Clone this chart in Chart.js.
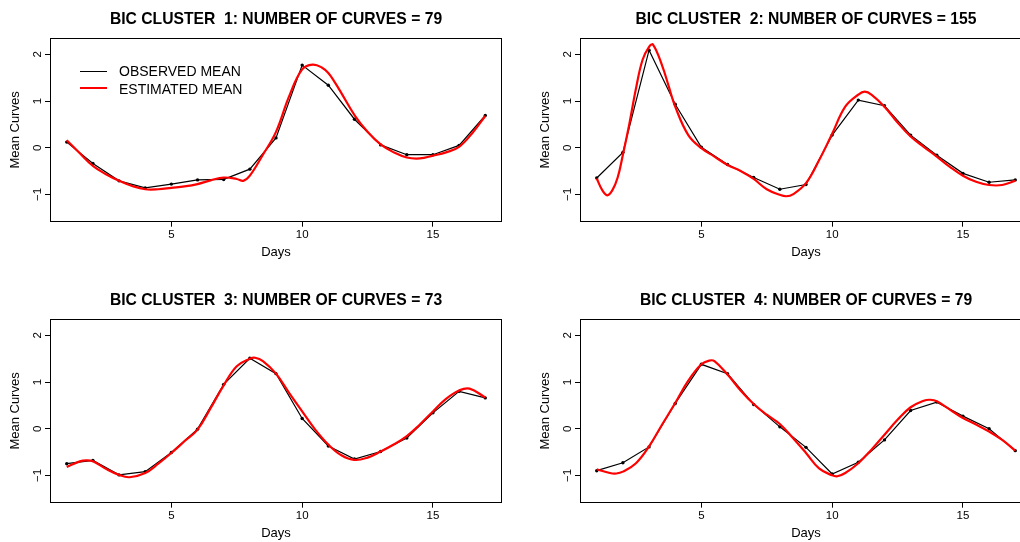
<!DOCTYPE html>
<html>
<head>
<meta charset="utf-8">
<script src="https://cdn.jsdelivr.net/npm/chart.js@4.4.1/dist/chart.umd.min.js"></script>
<style>
  html, body { margin: 0; padding: 0; background: #fff; }
  body { width: 1020px; height: 542px; overflow: hidden; position: relative;
         font-family: "Liberation Sans", Arial, Helvetica, sans-serif; }
  canvas { position: absolute; }
  #legend { position: absolute; left: 80px; top: 62.4px; font-size: 14px; color: #000; }
  #legend .row { display: flex; align-items: center; height: 17.3px; }
  #legend .line { display: inline-block; width: 27px; height: 0; }
  #legend .txt { margin-left: 12px; line-height: 17.3px; position: relative; top: 1px; white-space: pre; }
</style>
</head>
<body>
<canvas id="c1" width="552" height="270" style="left:0px;top:0px"></canvas>
<canvas id="c2" width="552" height="270" style="left:530px;top:0px"></canvas>
<canvas id="c3" width="552" height="270" style="left:0px;top:281px"></canvas>
<canvas id="c4" width="552" height="270" style="left:530px;top:281px"></canvas>
<div id="legend">
  <div class="row"><span class="line" style="border-top:1.3px solid #000"></span><span class="txt">OBSERVED MEAN</span></div>
  <div class="row"><span class="line" style="border-top:2.2px solid #ff0000"></span><span class="txt">ESTIMATED MEAN</span></div>
</div>
<script>
const FONT = '"Liberation Sans", Arial, Helvetica, sans-serif';

// sampling days of the observed means
const days = [1, 2, 3, 4, 5, 6, 7, 8, 9, 10, 11, 12, 13, 14, 15, 16, 17];
const xTicks = [5, 10, 15];
const yTicks = [-1, 0, 1, 2];

const titles = [
  "BIC CLUSTER  1: NUMBER OF CURVES = 79",
  "BIC CLUSTER  2: NUMBER OF CURVES = 155",
  "BIC CLUSTER  3: NUMBER OF CURVES = 73",
  "BIC CLUSTER  4: NUMBER OF CURVES = 79",
];

// observed cluster means
const obs1 = [0.12, -0.34, -0.71, -0.86, -0.78, -0.69, -0.68, -0.46, 0.21, 1.77, 1.34, 0.61, 0.06, -0.15, -0.15, 0.05, 0.69];
const obs2 = [-0.65, -0.10, 2.09, 0.93, 0.01, -0.36, -0.64, -0.89, -0.79, 0.27, 1.02, 0.90, 0.27, -0.16, -0.55, -0.74, -0.69];
const obs3 = [-0.75, -0.68, -0.99, -0.92, -0.51, -0.01, 0.95, 1.51, 1.18, 0.22, -0.37, -0.65, -0.49, -0.20, 0.34, 0.80, 0.66];
const obs4 = [-0.90, -0.73, -0.39, 0.54, 1.38, 1.18, 0.52, 0.04, -0.40, -0.97, -0.72, -0.24, 0.39, 0.57, 0.27, 0.00, -0.47];

// estimated (smoothed) mean curves
const estX1 = [1, 1.5, 2, 2.5, 3, 3.5, 4, 4.5, 5, 5.5, 6, 6.5, 7, 7.5, 7.75, 8, 8.5, 9, 9.5, 10, 10.4, 10.75, 11, 11.25, 11.5, 12, 12.5, 13, 13.5, 14, 14.5, 15, 15.5, 16, 16.5, 17];
const estY1 = [0.16, -0.12, -0.39, -0.57, -0.71, -0.82, -0.89, -0.89, -0.86, -0.83, -0.78, -0.70, -0.64, -0.67, -0.71, -0.60, -0.15, 0.34, 1.10, 1.68, 1.78, 1.72, 1.60, 1.40, 1.17, 0.70, 0.34, 0.07, -0.10, -0.21, -0.23, -0.17, -0.10, 0.02, 0.31, 0.68];

const estX2 = [1, 1.2, 1.4, 1.6, 1.8, 2, 2.25, 2.5, 2.75, 3, 3.15, 3.5, 3.75, 4, 4.5, 5, 5.5, 6, 6.5, 7, 7.5, 8, 8.25, 8.5, 9, 9.5, 10, 10.5, 11, 11.25, 11.5, 12, 12.5, 13, 13.5, 14, 14.5, 15, 15.5, 16, 16.5, 17];
const estY2 = [-0.66, -0.90, -1.02, -0.91, -0.64, -0.15, 0.52, 1.27, 1.88, 2.16, 2.21, 1.76, 1.32, 0.88, 0.27, -0.01, -0.19, -0.37, -0.50, -0.67, -0.89, -1.01, -1.04, -1.00, -0.76, -0.27, 0.30, 0.88, 1.14, 1.20, 1.14, 0.88, 0.54, 0.24, 0.02, -0.19, -0.41, -0.60, -0.73, -0.80, -0.80, -0.71];

const estX3 = [1, 1.5, 1.75, 2, 2.5, 3, 3.4, 4, 4.5, 5, 5.5, 6, 6.5, 7, 7.5, 8, 8.2, 8.5, 9, 9.5, 10, 10.5, 11, 11.5, 12, 12.5, 13, 13.5, 14, 14.5, 15, 15.5, 16, 16.4, 17];
const estY3 = [-0.82, -0.70, -0.68, -0.70, -0.86, -0.99, -1.04, -0.95, -0.75, -0.52, -0.27, -0.02, 0.44, 0.93, 1.34, 1.50, 1.52, 1.45, 1.18, 0.77, 0.37, -0.02, -0.34, -0.57, -0.67, -0.62, -0.49, -0.34, -0.16, 0.09, 0.37, 0.64, 0.82, 0.86, 0.67];

const estX4 = [1, 1.5, 1.75, 2, 2.5, 3, 3.5, 4, 4.5, 5, 5.3, 5.5, 6, 6.5, 7, 7.5, 8, 8.5, 9, 9.5, 10, 10.2, 10.5, 11, 11.5, 12, 12.5, 13, 13.5, 13.75, 14, 14.5, 15, 15.5, 16, 16.5, 17];
const estY4 = [-0.87, -0.95, -0.96, -0.92, -0.74, -0.38, 0.09, 0.55, 1.03, 1.38, 1.46, 1.45, 1.16, 0.82, 0.53, 0.30, 0.10, -0.20, -0.52, -0.85, -1.00, -1.02, -0.95, -0.74, -0.45, -0.13, 0.19, 0.46, 0.60, 0.62, 0.59, 0.41, 0.23, 0.09, -0.06, -0.24, -0.47];

// closed frame around the plotting region
const boxPlugin = {
  id: "plotBox",
  afterDraw(chart) {
    const { ctx, chartArea: a } = chart;
    ctx.save();
    ctx.strokeStyle = "#000";
    ctx.lineWidth = 1;
    ctx.strokeRect(Math.round(a.left) + 0.5, Math.round(a.top) + 0.5,
                   Math.round(a.right - a.left) - 1, Math.round(a.bottom - a.top));
    ctx.restore();
  },
};

const tickGrid = { drawOnChartArea: false, drawTicks: true, tickLength: 5, color: "#000", lineWidth: 1 };

function makePanel(id, title, obs, estX, estY) {
  return new Chart(document.getElementById(id), {
    type: "line",
    data: {
      datasets: [
        {
          label: "ESTIMATED MEAN",
          data: estX.map((x, i) => ({ x, y: estY[i] })),
          borderColor: "#ff0000",
          borderWidth: 2.2,
          pointRadius: 0,
          tension: 0.4,
          order: 0,
        },
        {
          label: "OBSERVED MEAN",
          data: days.map((x, i) => ({ x, y: obs[i] })),
          borderColor: "#000",
          backgroundColor: "#000",
          borderWidth: 1.2,
          pointRadius: 1.7,
          pointBorderWidth: 0,
          tension: 0,
          order: 1,
        },
      ],
    },
    options: {
      responsive: false,
      animation: false,
      devicePixelRatio: 1,
      layout: { padding: 0 },
      plugins: {
        legend: { display: false },
        tooltip: { enabled: false },
        title: {
          display: true,
          text: title,
          color: "#000",
          font: { family: FONT, size: 15.7, weight: "bold" },
          padding: { top: 9.8, bottom: 9.6 },
        },
      },
      scales: {
        x: {
          type: "linear",
          min: 0.36,
          max: 17.64,
          afterBuildTicks: (s) => { s.ticks = xTicks.map((v) => ({ value: v })); },
          afterFit: (s) => { s.height = 48.3; },
          grid: tickGrid,
          border: { display: false },
          ticks: { color: "#000", font: { family: FONT, size: 11.5 }, padding: 1.6, maxRotation: 0, autoSkip: false },
          title: { display: true, text: "Days", color: "#000", font: { family: FONT, size: 13 }, padding: { top: 0, bottom: 9.7 } },
        },
        y: {
          type: "linear",
          min: -1.586,
          max: 2.346,
          afterBuildTicks: (s) => { s.ticks = yTicks.map((v) => ({ value: v })); },
          afterFit: (s) => { s.width = 50; },
          grid: tickGrid,
          border: { display: false },
          ticks: {
            color: "#000",
            font: { family: FONT, size: 11.5 },
            padding: 1.1,
            minRotation: 90,
            maxRotation: 90,
            crossAlign: "center",
            callback: (v) => (v < 0 ? "\u2212" + Math.abs(v) : String(v)),
          },
          title: { display: true, text: "Mean Curves", color: "#000", font: { family: FONT, size: 13 }, padding: { top: 7.9, bottom: 0 } },
        },
        // empty right margin, same width as the left axis, keeps the title centred over the plot
        margin: {
          type: "linear",
          position: "right",
          afterFit: (s) => { s.width = 50; },
          grid: { display: false, drawTicks: false },
          border: { display: false },
          ticks: { display: false },
        },
      },
    },
    plugins: [boxPlugin],
  });
}

makePanel("c1", titles[0], obs1, estX1, estY1);
makePanel("c2", titles[1], obs2, estX2, estY2);
makePanel("c3", titles[2], obs3, estX3, estY3);
makePanel("c4", titles[3], obs4, estX4, estY4);
</script>
</body>
</html>
